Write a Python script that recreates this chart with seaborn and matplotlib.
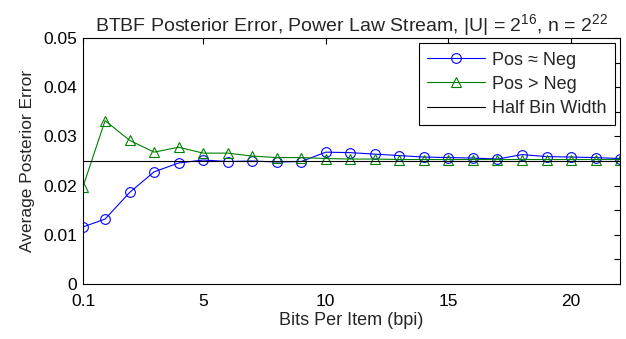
import numpy as np
import pandas as pd
import seaborn as sns
import matplotlib.pyplot as plt
from matplotlib.ticker import MultipleLocator

# bits per item
bpi = [0.1, 1, 2, 3, 4, 5, 6, 7, 8, 9, 10, 11, 12, 13, 14, 15, 16, 17, 18, 19, 20, 21, 22]

# average posterior error, Pos ~ Neg
err_approx = [0.0116, 0.0132, 0.0186, 0.0228, 0.0246, 0.0252, 0.0249, 0.0250, 0.0248, 0.0249,
              0.0268, 0.0267, 0.0264, 0.0261, 0.0258, 0.0257, 0.0256, 0.0254, 0.0263, 0.0259,
              0.0258, 0.0257, 0.0255]

# average posterior error, Pos > Neg
err_greater = [0.0198, 0.0332, 0.0292, 0.0268, 0.0278, 0.0266, 0.0266, 0.0260, 0.0257, 0.0257,
               0.0255, 0.0254, 0.0254, 0.0253, 0.0253, 0.0253, 0.0253, 0.0253, 0.0253, 0.0253,
               0.0253, 0.0253, 0.0253]

half_bin = 0.025

df = pd.DataFrame({'bpi': bpi, 'approx': err_approx, 'greater': err_greater})

sns.set_style('white')
plt.rcParams['font.family'] = ['Liberation Sans', 'DejaVu Sans']
plt.rcParams['mathtext.default'] = 'regular'

fig = plt.figure(figsize=(6.26, 3.39), dpi=100)
ax = fig.add_axes([0.1326, 0.1622, 0.858, 0.7257])

sns.lineplot(x='bpi', y='approx', data=df, ax=ax, color='#0000ff', lw=0.8,
             marker='o', markersize=7, markerfacecolor='none', markeredgecolor='#0000ff',
             markeredgewidth=0.8, label='Pos \u2248 Neg')
sns.lineplot(x='bpi', y='greater', data=df, ax=ax, color='#008000', lw=0.8,
             marker='^', markersize=7.5, markerfacecolor='none', markeredgecolor='#008000',
             markeredgewidth=0.8, label='Pos > Neg')
ax.axhline(half_bin, color='black', lw=0.8, label='Half Bin Width')

ax.set_xlim(0.1, 22)
ax.set_ylim(0, 0.05)
ax.set_xticks([0.1, 5, 10, 15, 20])
ax.set_xticklabels(['0.1', '5', '10', '15', '20'])
ax.set_yticks([0, 0.01, 0.02, 0.03, 0.04, 0.05])
ax.set_yticklabels(['0', '0.01', '0.02', '0.03', '0.04', '0.05'])
ax.yaxis.set_minor_locator(MultipleLocator(0.005))

ax.tick_params(which='both', direction='in', top=True, right=True, length=4,
               width=0.8, labelsize=12.5, colors='black')
ax.tick_params(axis='x', pad=7)
ax.tick_params(axis='y', pad=4)
for s in ax.spines.values():
    s.set_color('black')
    s.set_linewidth(0.8)

ax.set_xlabel('Bits Per Item (bpi)', fontsize=13, labelpad=2)
ax.set_ylabel('Average Posterior Error', fontsize=12.5, labelpad=6)
ax.set_title('BTBF Posterior Error, Power Law Stream, |U| = $2^{16}$, n = $2^{22}$',
             fontsize=14, pad=5)

leg = ax.legend(loc='upper right', fontsize=13, frameon=True, fancybox=False,
                edgecolor='black', framealpha=1, borderaxespad=0.3, handlelength=3.2,
                labelspacing=0.4, borderpad=0.45, handletextpad=0.4)
leg.get_frame().set_linewidth(0.8)

fig.savefig('out.png', dpi=100)
